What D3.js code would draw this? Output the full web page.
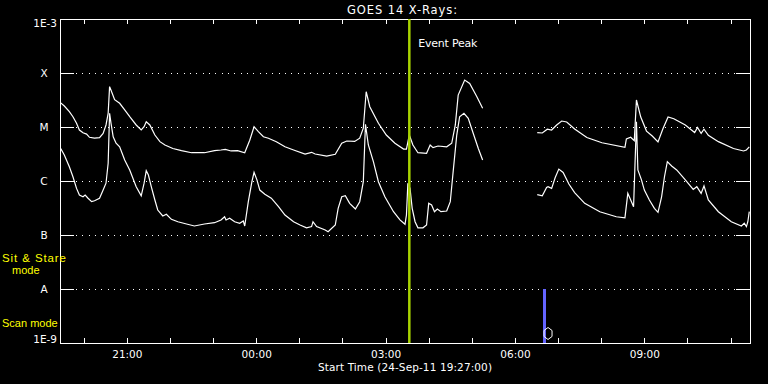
<!DOCTYPE html>
<html lang="en">
    <head>
        <meta charset="UTF-8">
        <title>GOES 14 X-Rays</title>
        <style>
            html, body{
                margin: 0;
                padding: 0;
                background: #000;
            }
            #chart text{
                font-family: 'DejaVu Sans', sans-serif;
                fill: #fff;
            }
            .grid-line{
                stroke: #fff;
                stroke-width: 1;
                stroke-dasharray: 1 5.33;
                shape-rendering: crispEdges;
            }
            .axis path, .axis line{
                stroke: #fff;
                shape-rendering: crispEdges;
            }
            .flux-line{
                fill: none;
                stroke: #fff;
                stroke-width: 1.2;
            }
            #chart text.mode-label{
                fill: #ffff00;
                font-family: 'Liberation Sans', sans-serif;
            }
        </style>
    </head>
    <body>
        <svg id="chart" width="768" height="384"></svg>

        <script src="https://d3js.org/d3.v7.min.js"></script>
        <script>
            ///////////////////////////////////////
            //// DATA ////
            ///////////////////////////////////////

            const startTime = '24-Sep-11 19:27:00'
            const windowStart = '19:27'
            const windowEnd = '11:27'

            // 1-8 Angstrom (long) channel, W/m^2 - null marks the data gap
            const longTimes = ['19:28','19:33','19:40','19:45','19:50','19:54','19:59','20:04','20:08','20:15','20:22','20:27','20:31','20:34','20:36','20:38','20:43','20:50','20:57','21:04','21:13','21:20','21:24','21:27','21:32','21:39','21:46','21:53','22:04','22:16','22:30','22:48','23:02','23:11','23:17','23:25','23:34','23:44','23:51','23:57','00:03','00:10','00:17','00:28','00:40','00:52','01:08','01:17','01:22','01:38','01:50','01:59','02:06','02:17','02:24','02:29','02:33','02:38','02:50','03:01','03:13','03:25','03:29','03:33','03:38','03:45','03:57','04:02','04:06','04:13','04:25','04:32','04:37','04:41','04:50','04:57','05:07','05:15','05:50','06:31','06:38','06:45','06:51','06:58','07:05','07:12','07:23','07:40','08:01','08:33','08:35','08:41','08:46','08:49','08:55','09:03','09:11','09:19','09:26','09:33','09:41','09:57','10:10','10:14','10:19','10:23','10:29','10:43','11:04','11:18','11:22','11:26']
            const longFlux = [2.8e-5,2.45e-5,1.92e-5,1.55e-5,1.17e-5,8.8e-6,7.8e-6,7.4e-6,6.45e-6,6.2e-6,6.35e-6,7.6e-6,1.09e-5,1.79e-5,5.6e-5,4.8e-5,3.2e-5,2.75e-5,2.07e-5,1.55e-5,1.09e-5,8.8e-6,1.01e-5,1.25e-5,1.09e-5,7.1e-6,5.35e-6,4.65e-6,4.0e-6,3.64e-6,3.34e-6,3.34e-6,3.64e-6,3.75e-6,3.86e-6,3.6e-6,3.64e-6,3.34e-6,5.7e-6,1.01e-5,8.2e-6,6.6e-6,6.2e-6,5.35e-6,4.3e-6,3.75e-6,3.16e-6,3.4e-6,3.16e-6,2.9e-6,3.13e-6,5.0e-6,5.5e-6,5.4e-6,6.2e-6,9.5e-6,4.5e-5,2.38e-5,1.17e-5,7.1e-6,5.0e-6,3.9e-6,3.9e-6,7.1e-6,4.65e-6,3.34e-6,3.26e-6,4.65e-6,4.14e-6,4.45e-6,4.3e-6,5.0e-6,1.09e-5,3.9e-5,7.4e-5,6.4e-5,3.64e-5,2.22e-5,null,7.9e-6,7.75e-6,9.1e-6,8.8e-6,1.09e-5,1.29e-5,1.24e-5,9.2e-6,6.4e-6,5.1e-6,4.2e-6,6.0e-6,6.45e-6,5.6e-6,3.16e-5,1.53e-5,8.4e-6,6.8e-6,5.3e-6,9.4e-6,1.53e-5,1.42e-5,1.09e-5,7.9e-6,9.8e-6,7.6e-6,9.1e-6,7.0e-6,5.35e-6,4.0e-6,3.6e-6,3.75e-6,4.27e-6]

            // 0.5-4 Angstrom (short) channel, W/m^2
            const shortTimes = ['19:28','19:33','19:40','19:45','19:50','19:54','19:59','20:02','20:06','20:11','20:15','20:22','20:27','20:31','20:34','20:36','20:38','20:41','20:45','20:50','20:57','21:04','21:13','21:20','21:24','21:27','21:30','21:34','21:39','21:43','21:50','21:55','22:02','22:11','22:23','22:34','22:48','23:02','23:11','23:16','23:18','23:23','23:30','23:37','23:42','23:44','23:49','23:54','23:57','00:01','00:05','00:12','00:21','00:31','00:40','00:52','01:01','01:10','01:17','01:19','01:24','01:36','01:40','01:50','01:54','01:59','02:04','02:10','02:18','02:24','02:29','02:32','02:36','02:43','02:50','02:59','03:11','03:20','03:27','03:29','03:31','03:34','03:37','03:41','03:45','03:52','03:57','04:00','04:04','04:08','04:12','04:17','04:25','04:30','04:34','04:39','04:43','04:49','04:55','05:02','05:09','05:15','05:50','06:31','06:38','06:44','06:46','06:51','06:56','07:01','07:07','07:15','07:23','07:37','07:58','08:21','08:33','08:37','08:41','08:45','08:49','08:51','08:56','09:00','09:07','09:14','09:19','09:24','09:28','09:32','09:38','09:45','09:57','10:08','10:13','10:19','10:23','10:29','10:43','11:01','11:15','11:19','11:22','11:24','11:26']
            const shortFlux = [4.0e-6,3.03e-6,1.84e-6,1.2e-6,7.3e-7,5.5e-7,5.1e-7,5.5e-7,4.8e-7,4.14e-7,4.3e-7,4.8e-7,6.8e-7,9.1e-7,2.13e-6,1.79e-5,1.17e-5,6.6e-6,5.0e-6,4.3e-6,2.45e-6,1.6e-6,7.85e-7,5.3e-7,9.1e-7,1.55e-6,1.29e-6,7.85e-7,4.45e-7,2.9e-7,2.25e-7,2.42e-7,1.95e-7,1.76e-7,1.6e-7,1.47e-7,1.6e-7,1.69e-7,1.9e-7,2.18e-7,1.9e-7,2.04e-7,1.76e-7,1.65e-7,1.82e-7,1.47e-7,4.14e-7,9.7e-7,1.45e-6,1.05e-6,6.8e-7,5.7e-7,4.8e-7,3.34e-7,2.34e-7,1.76e-7,1.53e-7,1.36e-7,1.43e-7,1.76e-7,1.43e-7,1.24e-7,1.15e-7,1.53e-7,3.12e-7,5.1e-7,5.35e-7,3.86e-7,3.03e-7,4.14e-7,9.7e-7,1.12e-5,4.65e-6,2.28e-6,9.7e-7,5.1e-7,2.7e-7,1.9e-7,1.58e-7,2.34e-7,9.1e-7,7.3e-7,3.12e-7,1.76e-7,1.36e-7,1.36e-7,1.53e-7,3.86e-7,3.6e-7,2.7e-7,3.03e-7,2.7e-7,2.78e-7,4.14e-7,1.49e-6,7.1e-6,1.55e-5,1.79e-5,1.45e-5,7.6e-6,4.0e-6,2.45e-6,null,5.6e-7,5.3e-7,7.6e-7,7.85e-7,7.3e-7,1.16e-6,1.66e-6,1.44e-6,8.8e-7,6.1e-7,3.86e-7,2.7e-7,2.18e-7,2.07e-7,5.9e-7,4.45e-7,3.34e-7,1.25e-5,1.6e-6,1.05e-6,6.8e-7,4.45e-7,3.12e-7,2.63e-7,5.1e-7,1.2e-6,2.28e-6,1.9e-6,1.6e-6,1.05e-6,7.0e-7,7.85e-7,5.9e-7,8.1e-7,4.45e-7,2.7e-7,1.76e-7,1.47e-7,1.65e-7,1.43e-7,1.76e-7,2.7e-7]

            // flare classes on the left axis
            const decadeValues = [1e-9, 1e-8, 1e-7, 1e-6, 1e-5, 1e-4, 1e-3]
            const decadeLabels = ['1E-9', 'A', 'B', 'C', 'M', 'X', '1E-3']

            // event peak, observing-mode bar and image marker
            const eventPeakTime = '03:33'
            const scanModeTime = '06:41'
            const scanModeFlux = [1e-9, 1e-8]
            const markerTime = '06:46'
            const markerFlux = 1.5e-9

            ///////////////////////////
            //// SETTINGS / SCALES ////
            ///////////////////////////

            const vis = {
                elements: {},
                settings: {
                    width: 768,
                    height: 384,
                    plot: {left: 60, right: 750, top: 19, bottom: 343},
                    majorTick: 14
                }
            }
            const s = vis.settings

            // clock times before the start hour belong to the next day
            function toDate(hhmm){
                const [h, m] = hhmm.split(':').map(Number)
                return new Date(2011, 8, h >= 19 ? 24 : 25, h, m)
            }

            const x = d3.scaleTime()
                .domain([toDate(windowStart), toDate(windowEnd)])
                .range([s.plot.left, s.plot.right])
            const y = d3.scaleLog()
                .domain([1e-9, 1e-3])
                .range([s.plot.bottom, s.plot.top])

            const longSeries = longTimes.map((t, i) => ({date: toDate(t), flux: longFlux[i]}))
            const shortSeries = shortTimes.map((t, i) => ({date: toDate(t), flux: shortFlux[i]}))

            ////////////////////
            //// RENDERING ////
            ////////////////////

            const svg = d3.select('#chart')
            svg.append('rect').attr('width', s.width).attr('height', s.height).attr('fill', '#000')

            // 1. Dotted class lines with solid ticks at both ends
            const gridGroup = svg.append('g')
            gridGroup.selectAll('line')
                .data(decadeValues.slice(1, -1))
                .join('line')
                .attr('class', 'grid-line')
                .attr('x1', s.plot.left + s.majorTick + 2)
                .attr('x2', s.plot.right - s.majorTick)
                .attr('y1', d => Math.round(y(d)) + 0.5)
                .attr('y2', d => Math.round(y(d)) + 0.5)

            // 2. Axes
            const hourTicks = d3.timeHour.every(1)
            const hourFormat = d3.timeFormat('%H:%M')

            svg.append('g').attr('class', 'axis')
                .attr('transform', `translate(0,${s.plot.bottom})`)
                .call(d3.axisBottom(x).ticks(hourTicks).tickSize(-5).tickSizeOuter(0).tickPadding(8)
                    .tickFormat(d => d.getHours() % 3 === 0 ? hourFormat(d) : ''))
                .call(g => g.selectAll('text').attr('font-size', 10.5))

            svg.append('g').attr('class', 'axis')
                .attr('transform', `translate(0,${s.plot.top})`)
                .call(d3.axisTop(x).ticks(hourTicks).tickSize(-5).tickSizeOuter(0).tickFormat(''))

            const leftAxis = svg.append('g').attr('class', 'axis')
                .attr('transform', `translate(${s.plot.left},0)`)
                .call(d3.axisLeft(y).tickValues(decadeValues).tickSize(-s.majorTick).tickSizeOuter(0).tickPadding(3)
                    .tickFormat((d, i) => decadeLabels[i]))
            leftAxis.selectAll('text')
                .attr('font-size', 10.5)
                .attr('text-anchor', (d, i) => decadeLabels[i].length > 1 ? 'end' : 'middle')
                .attr('x', (d, i) => decadeLabels[i].length > 1 ? -3 : -16)
                .attr('dy', (d, i) => i === 0 ? '-0.05em' : (i === decadeValues.length - 1 ? '0.75em' : '0.35em'))

            svg.append('g').attr('class', 'axis')
                .attr('transform', `translate(${s.plot.right},0)`)
                .call(d3.axisRight(y).tickValues(decadeValues).tickSize(-s.majorTick).tickSizeOuter(0).tickFormat(''))

            // 3. Flux curves
            const line = d3.line()
                .defined(d => d.flux != null)
                .x(d => x(d.date))
                .y(d => y(d.flux))

            svg.append('path').datum(longSeries).attr('class', 'flux-line').attr('d', line)
            svg.append('path').datum(shortSeries).attr('class', 'flux-line').attr('d', line)

            // 4. Event peak marker
            svg.append('line')
                .attr('x1', x(toDate(eventPeakTime))).attr('x2', x(toDate(eventPeakTime)))
                .attr('y1', s.plot.top).attr('y2', s.plot.bottom)
                .attr('stroke', '#a8d400').attr('stroke-width', 2.5)
            svg.append('text')
                .attr('x', x(toDate(eventPeakTime)) + 9).attr('y', 47)
                .attr('font-size', 11).attr('textLength', 59)
                .text('Event Peak')

            // 5. Observing mode bar + image marker
            const scanX = Math.round(x(toDate(scanModeTime))) + 0.5
            svg.append('line')
                .attr('x1', scanX).attr('x2', scanX)
                .attr('y1', y(scanModeFlux[1])).attr('y2', y(scanModeFlux[0]))
                .attr('stroke', '#6464ff').attr('stroke-width', 3)
                .attr('shape-rendering', 'crispEdges')

            const hex = [[0, -6], [4, -3], [4, 3], [0, 6], [-4, 3], [-4, -3]]
            svg.append('path')
                .attr('transform', `translate(${x(toDate(markerTime))},${y(markerFlux)})`)
                .attr('d', d3.line()(hex) + 'Z')
                .attr('fill', 'none').attr('stroke', '#fff').attr('stroke-width', 1)

            // 6. Titles and mode labels
            svg.append('text')
                .attr('x', (s.plot.left + s.plot.right) / 2 - 3).attr('y', 14)
                .attr('text-anchor', 'middle').attr('font-size', 11.5).attr('textLength', 110)
                .text('GOES 14 X-Rays:')
            svg.append('text')
                .attr('x', 405).attr('y', 371)
                .attr('text-anchor', 'middle').attr('font-size', 10.5).attr('textLength', 174)
                .text('Start Time (' + startTime + ')')

            svg.append('text').attr('class', 'mode-label')
                .attr('x', 2).attr('y', 262).attr('font-size', 11.5).attr('textLength', 64)
                .text('Sit & Stare')
            svg.append('text').attr('class', 'mode-label')
                .attr('x', 12).attr('y', 274).attr('font-size', 11)
                .text('mode')
            svg.append('text').attr('class', 'mode-label')
                .attr('x', 2).attr('y', 327).attr('font-size', 11)
                .text('Scan mode')
        </script>
    </body>
</html>
